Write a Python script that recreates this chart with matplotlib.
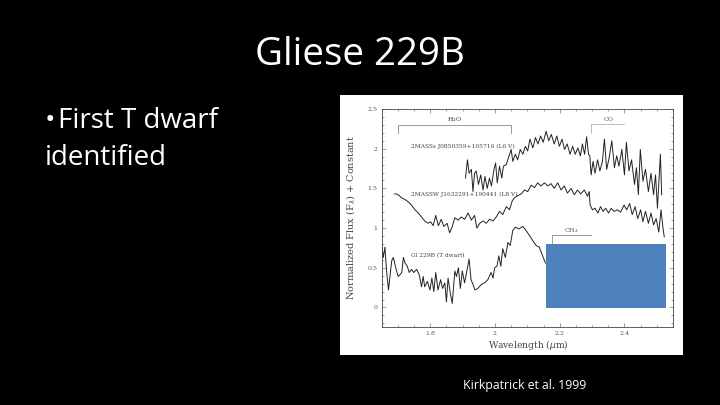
import matplotlib
matplotlib.use('Agg')
import matplotlib.pyplot as plt
from matplotlib.patches import Rectangle
from matplotlib.ticker import MultipleLocator

# spectra, wavelength in microns
top_wave = [1.909, 1.915, 1.920, 1.927, 1.932, 1.937, 1.942, 1.949, 1.956, 1.963, 1.969, 1.976, 1.983, 1.989, 1.997, 2.002,
            2.007, 2.014, 2.021, 2.026, 2.035, 2.042, 2.05, 2.055, 2.063, 2.07, 2.078, 2.086, 2.094, 2.101, 2.108, 2.117,
            2.125, 2.133, 2.141, 2.149, 2.158, 2.166, 2.174, 2.183, 2.191, 2.199, 2.207, 2.215, 2.223, 2.232, 2.24, 2.248,
            2.256, 2.264, 2.27, 2.277, 2.283, 2.289, 2.293, 2.297, 2.303, 2.309, 2.317, 2.324, 2.332, 2.338, 2.345, 2.353,
            2.361, 2.369, 2.376, 2.383, 2.392, 2.4, 2.406, 2.414, 2.422, 2.431, 2.437, 2.443, 2.449, 2.457, 2.465, 2.474,
            2.482, 2.49, 2.496, 2.502, 2.511, 2.515]
top_flux = [1.63, 1.86, 1.69, 1.74, 1.46, 1.69, 1.72, 1.55, 1.67, 1.48, 1.65, 1.50, 1.63, 1.53, 1.74, 1.82,
            1.57, 1.78, 1.63, 1.78, 1.80, 1.89, 1.99, 1.84, 1.93, 1.86, 1.99, 1.93, 2.03, 1.97, 2.12, 2.01,
            2.14, 2.06, 2.16, 2.08, 2.22, 2.10, 2.18, 2.06, 2.16, 2.03, 2.12, 1.99, 2.06, 1.93, 2.03, 1.93,
            2.01, 1.91, 2.06, 1.93, 2.15, 1.93, 1.91, 1.67, 1.84, 1.69, 1.86, 1.72, 1.84, 2.12, 1.74, 1.89,
            2.10, 1.76, 1.91, 1.78, 1.99, 1.67, 2.08, 1.72, 1.86, 1.55, 1.76, 1.42, 1.99, 1.59, 1.74, 1.46,
            1.69, 1.42, 1.67, 1.25, 1.93, 1.42]

mid_wave = [1.689, 1.696, 1.704, 1.712, 1.722, 1.732, 1.742, 1.753, 1.763, 1.773, 1.783, 1.794, 1.801, 1.809, 1.817, 1.825,
            1.834, 1.842, 1.852, 1.86, 1.868, 1.876, 1.886, 1.896, 1.906, 1.917, 1.927, 1.937, 1.944, 1.953, 1.963, 1.973,
            1.983, 1.994, 2.004, 2.014, 2.024, 2.035, 2.045, 2.053, 2.06, 2.071, 2.081, 2.091, 2.101, 2.112, 2.122, 2.132,
            2.142, 2.153, 2.163, 2.173, 2.183, 2.194, 2.204, 2.214, 2.224, 2.235, 2.245, 2.255, 2.265, 2.276, 2.286, 2.291,
            2.294, 2.301, 2.309, 2.318, 2.326, 2.334, 2.342, 2.351, 2.359, 2.368, 2.378, 2.388, 2.399, 2.407, 2.416, 2.424,
            2.433, 2.441, 2.45, 2.457, 2.465, 2.474, 2.482, 2.49, 2.498, 2.506, 2.513, 2.519, 2.523]
mid_flux = [1.43, 1.43, 1.41, 1.38, 1.36, 1.33, 1.29, 1.23, 1.19, 1.14, 1.09, 1.06, 1.08, 1.03, 1.16, 1.03,
            1.11, 1.02, 1.06, 0.94, 1.02, 1.13, 1.10, 1.14, 1.11, 1.19, 1.10, 1.16, 1.00, 1.06, 1.09, 1.06,
            1.11, 1.09, 1.14, 1.21, 1.17, 1.27, 1.23, 1.34, 1.38, 1.41, 1.43, 1.48, 1.46, 1.54, 1.51, 1.57,
            1.53, 1.57, 1.53, 1.56, 1.50, 1.57, 1.48, 1.53, 1.44, 1.50, 1.42, 1.48, 1.43, 1.48, 1.40, 1.46,
            1.29, 1.23, 1.25, 1.19, 1.27, 1.21, 1.25, 1.19, 1.25, 1.21, 1.23, 1.20, 1.29, 1.23, 1.31, 1.17,
            1.27, 1.12, 1.23, 1.08, 1.21, 1.06, 1.19, 1.04, 1.12, 0.95, 1.23, 1.00, 0.89]

gl_wave = [1.65, 1.655, 1.66, 1.665, 1.671, 1.676, 1.681, 1.686, 1.691, 1.696, 1.701, 1.706, 1.712, 1.717, 1.722, 1.729,
           1.735, 1.742, 1.749, 1.758, 1.766, 1.773, 1.778, 1.783, 1.791, 1.799, 1.805, 1.811, 1.817, 1.824, 1.832, 1.838,
           1.845, 1.85, 1.855, 1.862, 1.868, 1.876, 1.881, 1.887, 1.893, 1.899, 1.906, 1.914, 1.92, 1.926, 1.932, 1.938,
           1.947, 1.958, 1.968, 1.978, 1.988, 1.994, 1.999, 2.006, 2.012, 2.018, 2.024, 2.032, 2.04, 2.047, 2.055, 2.063,
           2.074, 2.086, 2.096, 2.106, 2.117, 2.127, 2.137, 2.147, 2.156]
gl_flux = [0.78, 0.63, 0.76, 0.46, 0.22, 0.41, 0.59, 0.63, 0.54, 0.46, 0.39, 0.41, 0.44, 0.63, 0.56, 0.52,
           0.44, 0.48, 0.44, 0.48, 0.41, 0.26, 0.39, 0.26, 0.33, 0.22, 0.37, 0.20, 0.44, 0.22, 0.35, 0.24,
           0.31, 0.07, 0.37, 0.18, 0.05, 0.46, 0.39, 0.50, 0.24, 0.46, 0.31, 0.48, 0.61, 0.35, 0.29, 0.22,
           0.24, 0.29, 0.31, 0.35, 0.44, 0.37, 0.50, 0.52, 0.65, 0.52, 0.74, 0.63, 0.82, 0.78, 0.97, 1.01,
           0.99, 1.02, 0.97, 0.91, 0.84, 0.78, 0.76, 0.65, 0.56]

x_ticks = [1.8, 2.0, 2.2, 2.4]
x_tick_labels = ['1.8', '2', '2.2', '2.4']
y_ticks = [0, 0.5, 1, 1.5, 2, 2.5]
y_tick_labels = ['0', '0.5', '1', '1.5', '2', '2.5']

W, H = 720, 405
SERIF = 'DejaVu Serif'
SPEC_COLOR = '#222222'
GREY = '#8a8a8a'

fig = plt.figure(figsize=(W / 100, H / 100), dpi=100, facecolor='black')


def px_rect(x0, y0, x1, y1, color, z):
    # rectangle in slide pixels, y measured from the top
    r = Rectangle((x0 / W, 1 - y1 / H), (x1 - x0) / W, (y1 - y0) / H,
                  transform=fig.transFigure, facecolor=color, edgecolor='none', zorder=z)
    fig.add_artist(r)


# white picture behind the axes
px_rect(340, 95, 683, 355, 'white', 0)

ax = fig.add_axes([381.7 / W, 1 - 327.3 / H, 291.3 / W, 218.3 / H], zorder=1)
ax.set_facecolor('white')
ax.plot(top_wave, top_flux, color=SPEC_COLOR, lw=0.7)
ax.plot(mid_wave, mid_flux, color=SPEC_COLOR, lw=0.7)
ax.plot(gl_wave, gl_flux, color=SPEC_COLOR, lw=0.7)

# band brackets
ax.plot([1.699, 1.699, 2.05, 2.05], [2.20, 2.30, 2.30, 2.20], color=GREY, lw=0.6)
ax.plot([2.298, 2.298, 2.399], [2.20, 2.31, 2.31], color='#b0b0b0', lw=0.6)
ax.plot([2.175, 2.175, 2.298], [0.80, 0.915, 0.915], color=GREY, lw=0.6)

ax.text(1.874, 2.37, 'H$_2$O', fontsize=4.5, family=SERIF, ha='center', va='center', color='#333333')
ax.text(2.35, 2.37, 'CO', fontsize=4.5, family=SERIF, ha='center', va='center', color='#555555')
ax.text(2.237, 0.97, 'CH$_4$', fontsize=4.5, family=SERIF, ha='center', va='center', color='#555555')
ax.text(1.74, 2.03, '2MASSs J0850359+105716 (L6 V)', fontsize=4.2, family=SERIF, va='center', color='#444444')
ax.text(1.74, 1.43, '2MASSW J1632291+190441 (L8 V)', fontsize=4.2, family=SERIF, va='center', color='#444444')
ax.text(1.74, 0.66, 'Gl 229B (T dwarf)', fontsize=4.2, family=SERIF, va='center', color='#444444')

ax.set_xlim(1.65, 2.55)
ax.set_ylim(-0.25, 2.5)
ax.set_xticks(x_ticks, x_tick_labels)
ax.set_yticks(y_ticks, y_tick_labels)
ax.xaxis.set_minor_locator(MultipleLocator(0.05))
ax.yaxis.set_minor_locator(MultipleLocator(0.1))
ax.tick_params(which='both', direction='in', top=True, right=True, color='#555555', width=0.4)
ax.tick_params(which='major', length=3, labelsize=4.5, labelcolor='#555555', pad=3)
ax.tick_params(which='minor', length=1.5)
for s in ax.spines.values():
    s.set_linewidth(0.6)
    s.set_color('#444444')
for lab in ax.get_xticklabels() + ax.get_yticklabels():
    lab.set_family(SERIF)

fig.text(351 / W, 1 - 218 / H, r'Normalized Flux (F$_\lambda$) + Constant', rotation=90, fontsize=7,
         family=SERIF, color='#444444', ha='center', va='center', zorder=2)
fig.text(528 / W, 1 - 345.5 / H, r'Wavelength ($\mu$m)', fontsize=6.6, family=SERIF, color='#444444',
         ha='center', va='center', zorder=2)

# blue box pasted over the lower right of the plot
px_rect(546, 244, 666, 308, '#4f81bd', 3)

fig.text(360 / W, 1 - 55 / H, 'Gliese 229B', color='white', fontsize=27.7, family='Open Sans',
         ha='center', va='center')
fig.text(45 / W, 1 - 121 / H, '\u2022', color='white', fontsize=20, family='Open Sans', va='center')
fig.text(58 / W, 1 - 121 / H, 'First T dwarf', color='white', fontsize=20, family='Open Sans', va='center')
fig.text(45 / W, 1 - 158 / H, 'identified', color='white', fontsize=20, family='Open Sans', va='center')
fig.text(525 / W, 1 - 385.5 / H, 'Kirkpatrick et al. 1999', color='white', fontsize=8.8, family='Open Sans',
         ha='center', va='center')

fig.savefig('out.png', dpi=100, facecolor='black')
